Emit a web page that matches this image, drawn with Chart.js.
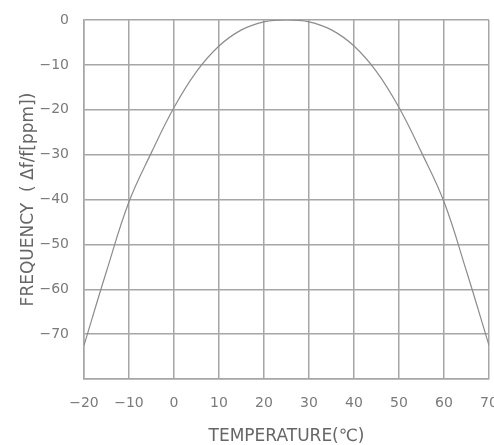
<!DOCTYPE html>
<html>
<head>
<meta charset="utf-8">
<script src="https://cdn.jsdelivr.net/npm/chart.js@4"></script>
<style>
  html, body { margin: 0; padding: 0; background: #fff; }
  #wrap { width: 494px; height: 445px; }
</style>
</head>
<body>
<div id="wrap"><canvas id="myChart" width="494" height="445"></canvas></div>
<script>
// temperature in degC and frequency deviation in ppm
const temps = [-20, -15, -10, -5, 0, 5, 10, 15, 20, 25, 30, 35, 40, 45, 50, 55, 60, 65, 70]
const freq = [-72.5, -56, -40.5, -29.5, -19.5, -11.5, -5.8, -2.2, -0.4, 0, -0.4, -2.2, -5.8, -11.5, -19.5, -29.5, -40.5, -56, -72.5]

const xTicks = [-20, -10, 0, 10, 20, 30, 40, 50, 60, 70]
const yTicks = [0, -10, -20, -30, -40, -50, -60, -70]

const points = temps.map((t, i) => ({ x: t, y: freq[i] }))

const gridCol = '#a6a6a6'
const textCol = '#7a7a7a'
const fontFam = "'DejaVu Sans', sans-serif"

const data = {
  datasets: [{
    data: points,
    borderColor: '#8c8c8c',
    borderWidth: 1.2,
    pointRadius: 0,
    tension: 0.4,
    fill: false
  }]
}

const config = {
  type: 'line',
  data: data,
  options: {
    responsive: false,
    animation: false,
    layout: { padding: { top: 20, right: 5, left: 0, bottom: 0 } },
    plugins: { legend: { display: false }, tooltip: { enabled: false } },
    scales: {
      x: {
        type: 'linear',
        min: -20,
        max: 70,
        afterBuildTicks: s => { s.ticks = xTicks.map(v => ({ value: v })) },
        afterFit: s => { s.height = 66; s.paddingLeft = 0; s.paddingRight = 0 },
        grid: { color: gridCol, lineWidth: 1.5, drawTicks: false },
        border: { color: gridCol, width: 1.5 },
        ticks: {
          padding: 16,
          color: textCol,
          font: { family: fontFam, size: 14 },
          maxRotation: 0,
          callback: v => v < 0 ? '\u2212' + Math.abs(v) : String(v)
        },
        title: {
          display: true,
          text: 'TEMPERATURE(\u2103)',
          color: '#666',
          font: { family: fontFam, size: 17, lineHeight: 1 },
          padding: 0
        }
      },
      y: {
        min: -80,
        max: 0,
        afterBuildTicks: s => { s.ticks = [-80].concat(yTicks.slice().reverse()).map(v => ({ value: v })) },
        afterFit: s => { s.width = 84; s.paddingTop = 0; s.paddingBottom = 0 },
        grid: { color: gridCol, lineWidth: 1.5, drawTicks: false },
        border: { color: gridCol, width: 1.5 },
        ticks: {
          padding: 15,
          color: textCol,
          font: { family: fontFam, size: 14 },
          callback: v => v === -80 ? '' : (v < 0 ? '\u2212' + Math.abs(v) : String(v))
        },
        title: {
          display: true,
          text: 'FREQUENCY  ( \u0394f/f[ppm])',
          color: '#666',
          font: { family: fontFam, size: 17 },
          padding: { top: 18 }
        }
      }
    }
  }
}

const myChart = new Chart(document.getElementById('myChart'), config)
</script>
</body>
</html>
